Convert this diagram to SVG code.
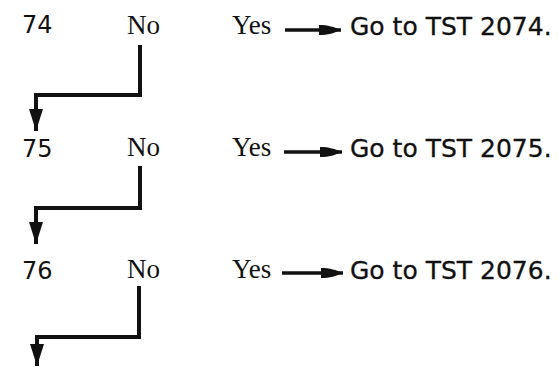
<svg xmlns="http://www.w3.org/2000/svg" width="559" height="367" viewBox="0 0 559 367">
<style>
.num{font-family:"DejaVu Sans",sans-serif;font-size:24px;fill:#111}
.ser{font-family:"Liberation Serif",serif;font-size:27px;fill:#111}
.go{font-family:"DejaVu Sans",sans-serif;font-size:25px;fill:#111;stroke:#111;stroke-width:0.3}
.c{fill:none;stroke:#111;stroke-width:4;stroke-linejoin:miter}
.y{fill:none;stroke:#111;stroke-width:3.5}
</style>
<defs>
<marker id="ad" markerUnits="userSpaceOnUse" markerWidth="22" markerHeight="14" refX="22" refY="7" orient="auto"><path d="M0,0 L22,7 L0,14 z" fill="#111"/></marker>
<marker id="ay" markerUnits="userSpaceOnUse" markerWidth="22" markerHeight="12" refX="22" refY="6" orient="auto"><path d="M0,1 C9,1 15,3 22,6 C15,9 9,11 0,11 z" fill="#111"/></marker>
</defs>
<g id="row74">
<text class="num" x="22" y="33">74</text>
<text class="ser" x="127" y="34">No</text>
<text class="ser" x="232" y="34">Yes</text>
<text class="go" x="350" y="35">Go to TST 2074.</text>
</g>
<g id="row75">
<text class="num" x="22" y="157">75</text>
<text class="ser" x="127" y="156">No</text>
<text class="ser" x="232" y="156">Yes</text>
<text class="go" x="350" y="157">Go to TST 2075.</text>
</g>
<g id="row76">
<text class="num" x="22" y="279">76</text>
<text class="ser" x="127" y="278">No</text>
<text class="ser" x="232" y="278">Yes</text>
<text class="go" x="350" y="279">Go to TST 2076.</text>
</g>
<g id="connectors">
<path class="c" d="M140,45 V95 H36 V131" marker-end="url(#ad)"/>
<path class="c" d="M140,166 V208 H36 V244" marker-end="url(#ad)"/>
<path class="c" d="M139,286 V337 H37 V366" marker-end="url(#ad)"/>
<path class="y" d="M285,30 H341" marker-end="url(#ay)"/>
<path class="y" d="M284,152 H342" marker-end="url(#ay)"/>
<path class="y" d="M282,273 H343" marker-end="url(#ay)"/>
</g>
</svg>
